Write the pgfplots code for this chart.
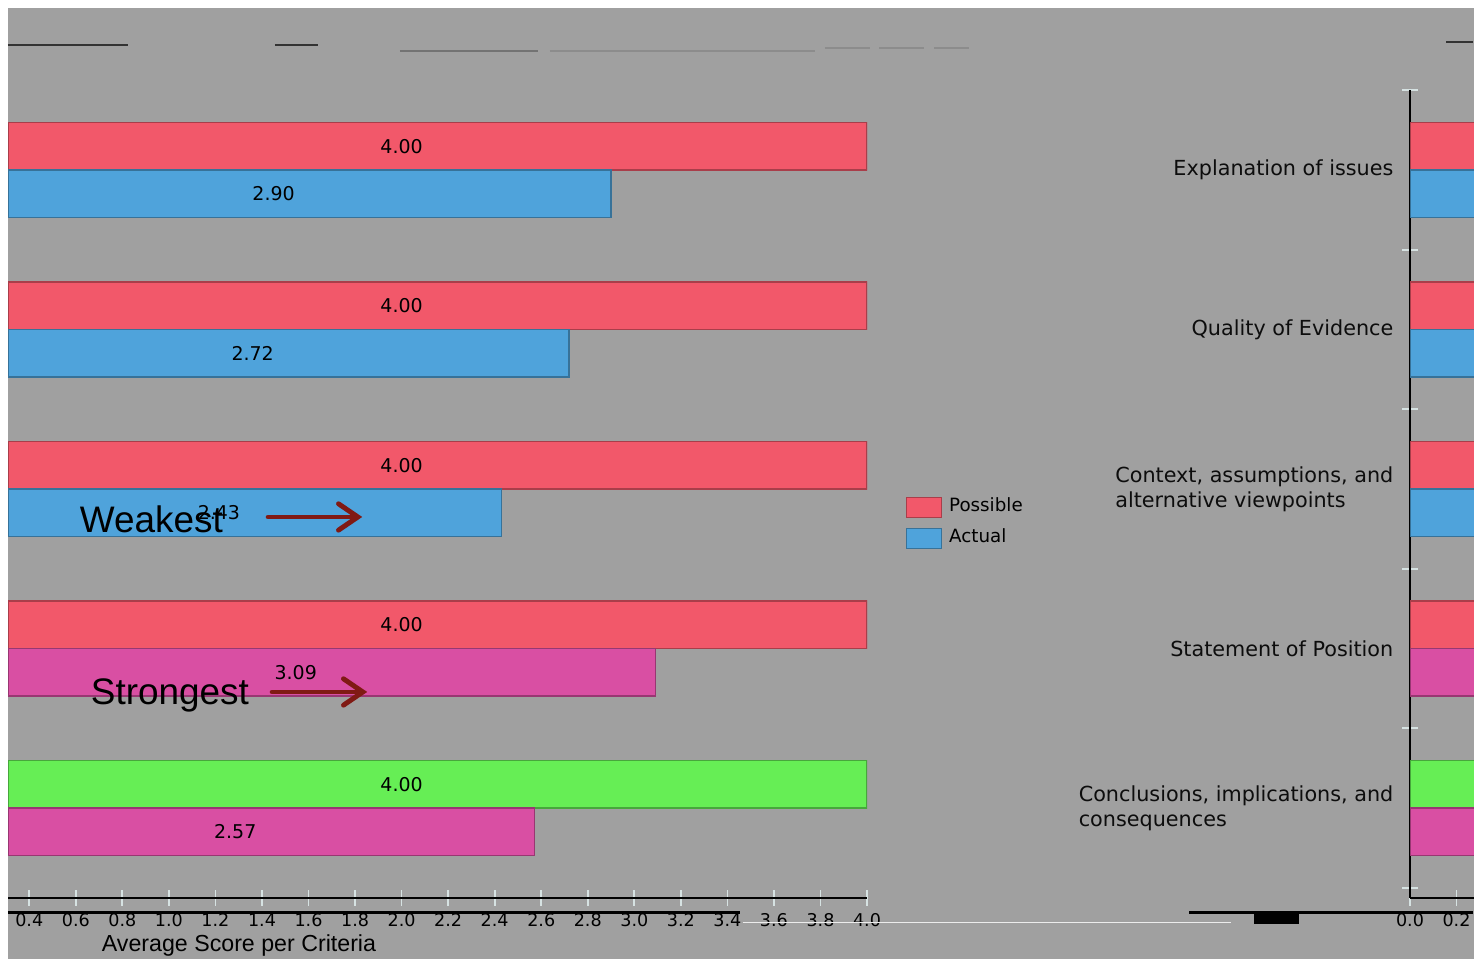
\documentclass[border=0pt]{standalone}
\usepackage{pgfplots}
\pgfplotsset{compat=1.18}
\usepackage{pgfplotstable}
\usepackage{fontspec}
\setmainfont{DejaVu Sans}
\newfontfamily\arialfont{Liberation Sans}
\usetikzlibrary{arrows.meta}

\definecolor{chartbg}{RGB}{160,160,160}
\definecolor{possiblered}{RGB}{242,88,106}
\definecolor{actualblue}{RGB}{79,163,219}
\definecolor{actualmagenta}{RGB}{217,79,163}
\definecolor{possiblegreen}{RGB}{102,238,85}
\definecolor{arrowred}{RGB}{128,26,20}
\definecolor{ticklight}{RGB}{214,226,226}

% category positions: 5 = Explanation of issues (top) ... 1 = Conclusions (bottom)
\pgfplotstableread{
pos score
5 4.00
4 4.00
3 4.00
2 4.00
}\possibleRed
\pgfplotstableread{
pos score
1 4.00
}\possibleGreen
\pgfplotstableread{
pos score
5 2.90
4 2.72
3 2.43
}\actualBlue
\pgfplotstableread{
pos score
2 3.09
1 2.57
}\actualMagenta

\newcommand{\valuefont}{\fontsize{5.4}{6.5}\selectfont}
\newcommand{\catfont}{\fontsize{5.9}{7.1}\selectfont}
\newcommand{\tickfont}{\fontsize{5.0}{6.0}\selectfont}

\pgfplotsset{
  scorebars/.style={
    scale only axis, anchor=south west,
    x=2.327cm, y=1.595cm,
    ymin=0.4357, ymax=5.5016,
    axis line style={black, line width=0.6pt},
    x axis line style={-}, y axis line style={-},
    tick align=center,
    major tick length=0.16cm,
    minor tick length=0.16cm,
    tick style={ticklight, line width=0.5pt},
    /pgf/number format/assume math mode=true,
    tick label style={font=\tickfont},
    x tick label style={/pgf/number format/fixed, /pgf/number format/fixed zerofill,
      /pgf/number format/precision=1, yshift=0.05cm},
  },
  scorebar/.style 2 args={xbar, bar width=0.475cm, bar shift=#2,
    draw=#1!70!black, fill=#1, line width=0.4pt},
  swatch legend/.style={legend image code/.code={%
    \draw[##1] (0cm,-0.1cm) rectangle (0.35cm,0.1cm);}},
  scorelabel/.style={draw=none, mark=none, forget plot,
    point meta=explicit,
    nodes near coords={\pgfmathprintnumber[fixed,fixed zerofill,precision=2]{\pgfplotspointmeta}},
    every node near coord/.append style={anchor=center, inner sep=0pt,
      font=\valuefont, text=black}},
}

\begin{document}
\begin{tikzpicture}
\path[use as bounding box, clip] (0,0) rectangle (14.74cm,9.59cm);
\fill[white] (0,0) rectangle (14.74cm,9.59cm);
\fill[chartbg] (0.08cm,0) rectangle (14.74cm,9.51cm);

% main bar panel
\begin{axis}[scorebars, at={(0.08cm,0.61cm)},
  xmin=0.3085, xmax=4,
  axis x line*=bottom, axis y line=none,
  xtick={0.4,0.6,0.8,1.0,1.2,1.4,1.6,1.8,2.0,2.2,2.4,2.6,2.8,3.0,3.2,3.4,3.6,3.8,4.0},
  ytick=\empty,
  xlabel={Average Score per Criteria},
  xlabel style={at={(axis description cs:0.2689,-0.0582)}, anchor=center,
    font=\arialfont\fontsize{6.6}{8}\selectfont},
  legend style={at={(axis description cs:1.0442,0.5050)}, anchor=north west,
    draw=none, fill=none, inner sep=0pt, row sep=-0.02cm,
    font=\fontsize{5.2}{6.2}\selectfont, legend cell align=left},
]
\addplot[scorebar={possiblered}{0.2375cm}, swatch legend]
  table[x=score, y=pos] {\possibleRed};
\addlegendentry{Possible}
\addplot[scorebar={actualblue}{-0.2375cm}, swatch legend]
  table[x=score, y=pos] {\actualBlue};
\addlegendentry{Actual}
\addplot[scorebar={possiblegreen}{0.2375cm}, forget plot]
  table[x=score, y=pos] {\possibleGreen};
\addplot[scorebar={actualmagenta}{-0.2375cm}, forget plot]
  table[x=score, y=pos] {\actualMagenta};

% value labels, centred on each bar
\addplot[scorelabel] table[x expr=\thisrow{score}/2, y expr=\thisrow{pos}+0.1489, meta=score] {\possibleRed};
\addplot[scorelabel] table[x expr=\thisrow{score}/2, y expr=\thisrow{pos}+0.1489, meta=score] {\possibleGreen};
\addplot[scorelabel] table[x expr=\thisrow{score}/2, y expr=\thisrow{pos}-0.1489, meta=score] {\actualBlue};
\addplot[scorelabel] table[x expr=\thisrow{score}/2, y expr=\thisrow{pos}-0.1489, meta=score] {\actualMagenta};

% annotations
\node[anchor=base west, inner sep=0pt, font=\arialfont\fontsize{10.5}{12}\selectfont]
  at (axis cs:0.6145,2.730) {Weakest};
\node[anchor=base west, inner sep=0pt, font=\arialfont\fontsize{10.5}{12}\selectfont]
  at (axis cs:0.6618,1.6458) {Strongest};
\draw[arrowred, line width=1.4pt, line cap=round,
  -{Straight Barb[length=5.5pt,width=7.5pt,line cap=round]}]
  (axis cs:1.4267,2.8245) -- (axis cs:1.8307,2.8245);
\draw[arrowred, line width=1.4pt, line cap=round,
  -{Straight Barb[length=5.5pt,width=7.5pt,line cap=round]}]
  (axis cs:1.4438,1.7273) -- (axis cs:1.8521,1.7273);
\end{axis}

% category axis panel at the right edge
\begin{axis}[scorebars, at={(14.10cm,0.61cm)},
  xmin=0, xmax=0.2750,
  axis x line*=bottom, axis y line*=left,
  xtick={0,0.2},
  ytick={1,2,3,4,5},
  yticklabels={{Conclusions, implications, and\\consequences},{Statement of Position},
    {Context, assumptions, and\\alternative viewpoints},{Quality of Evidence},
    {Explanation of issues}},
  yticklabel style={align=left, font=\catfont, inner sep=0pt, xshift=-0.08cm, text=black!95},
  major y tick style={draw=none},
  minor ytick={0.5,1.5,2.5,3.5,4.5,5.5},
]
\addplot[scorebar={possiblered}{0.2375cm}] table[x=score, y=pos] {\possibleRed};
\addplot[scorebar={actualblue}{-0.2375cm}] table[x=score, y=pos] {\actualBlue};
\addplot[scorebar={possiblegreen}{0.2375cm}] table[x=score, y=pos] {\possibleGreen};
\addplot[scorebar={actualmagenta}{-0.2375cm}] table[x=score, y=pos] {\actualMagenta};
\end{axis}

% stray rule fragments along the top and bottom edges
\begin{scope}[shift={(0,9.59cm)}, x=0.01cm, y=-0.01cm]
  \draw[black!80, line width=0.6pt] (8,45) -- (128,45);
  \draw[black!80, line width=0.6pt] (275,45) -- (318,45);
  \draw[black!55, line width=0.5pt] (400,51) -- (538,51);
  \draw[black!45, line width=0.5pt] (550,51) -- (815,51);
  \draw[black!45, line width=0.5pt] (825,48) -- (870,48) (880,48) -- (925,48) (935,48) -- (970,48);
  \draw[black!80, line width=0.6pt] (1447,42) -- (1474,42);
  \draw[black, line width=0.7pt] (8,913) -- (740,913);
  \draw[white!85!gray, line width=0.5pt] (743,923) -- (1232,923);
  \draw[black, line width=0.7pt] (1190,913) -- (1474,913);
  \fill[black] (1255,913) rectangle (1300,925);
\end{scope}
\end{tikzpicture}
\end{document}
